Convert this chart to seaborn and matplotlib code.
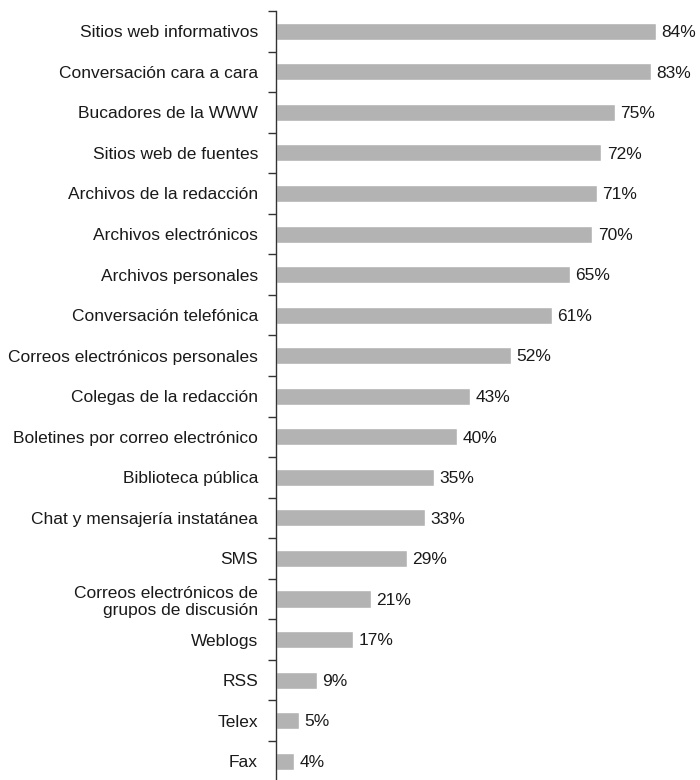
import matplotlib.pyplot as plt
import numpy as np
import pandas as pd
import seaborn as sns

sns.set_style("white")
plt.rcParams["font.family"] = ["Liberation Sans", "DejaVu Sans"]

# data
fuentes = [
    "Sitios web informativos",
    "Conversación cara a cara",
    "Bucadores de la WWW",
    "Sitios web de fuentes",
    "Archivos de la redacción",
    "Archivos electrónicos",
    "Archivos personales",
    "Conversación telefónica",
    "Correos electrónicos personales",
    "Colegas de la redacción",
    "Boletines por correo electrónico",
    "Biblioteca pública",
    "Chat y mensajería instatánea",
    "SMS",
    "Correos electrónicos de\ngrupos de discusión",
    "Weblogs",
    "RSS",
    "Telex",
    "Fax",
]
porcentaje = [84, 83, 75, 72, 71, 70, 65, 61, 52, 43, 40, 35, 33, 29, 21, 17, 9, 5, 4]

df = pd.DataFrame({"fuente": fuentes, "pct": porcentaje})

fig = plt.figure(figsize=(7, 7.8), dpi=100)
# axes box in pixels; the left spine runs slightly past the bottom edge
left_px, right_px, top_px, bottom_px = 276, 695, 11, 781.5
ax = fig.add_axes([left_px / 700, 1 - bottom_px / 780,
                   (right_px - left_px) / 700, (bottom_px - top_px) / 780])

sns.barplot(data=df, y="fuente", x="pct", orient="h", color="#b3b3b3",
            saturation=1, width=0.42, ax=ax)

ax.set_xlim(0, (right_px - left_px) / 4.52)
ax.set_ylim(len(fuentes) - 0.5, -0.5)

for i, v in enumerate(porcentaje):
    ax.text(v + 1.2, i + 0.03, f"{v}%", va="center", ha="left", fontsize=12.5, color="#1a1a1a")

sns.despine(ax=ax, top=True, right=True, bottom=True, left=False)
ax.spines["left"].set_color("#333333")
ax.spines["left"].set_linewidth(1.0)
ax.set_xticks([])
ax.set_xlabel("")
ax.set_ylabel("")
ax.tick_params(axis="y", which="major", length=0, pad=13, labelsize=12.5, labelcolor="#1a1a1a")
ax.set_yticks(np.arange(-0.5, len(fuentes) - 0.5, 1), minor=True)
ax.tick_params(axis="y", which="minor", left=True, length=6, width=1.0, color="#333333", direction="out")

plt.savefig("out.png", dpi=100)
